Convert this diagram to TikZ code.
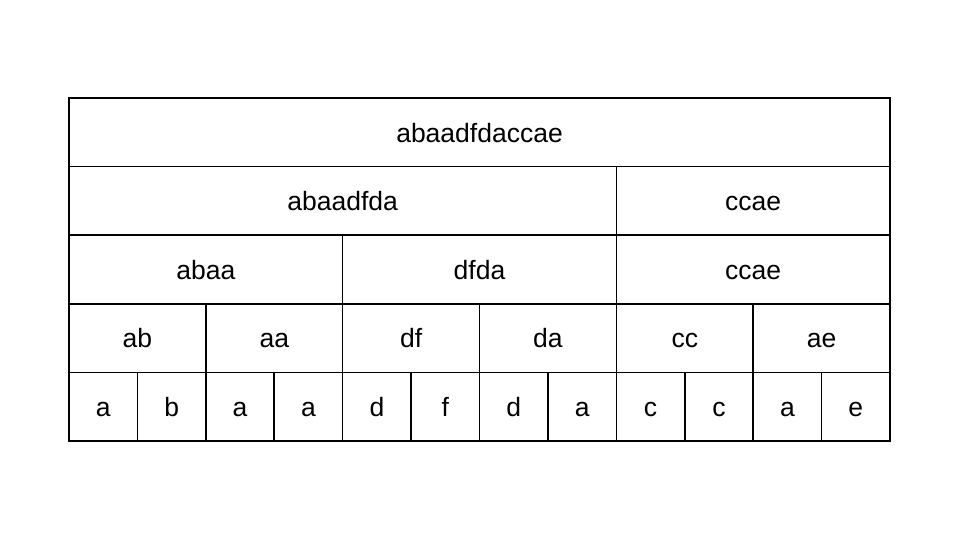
\documentclass[tikz,border=0pt]{standalone}
\usepackage{fontspec}
\setmainfont{Liberation Sans}

\begin{document}
\begin{tikzpicture}[x=1pt,y=-1pt,
   cell/.style={draw,line width=1.6pt,anchor=north west,inner sep=0pt,outer sep=0pt,
     minimum height=68.6pt,text height=19.5pt,text depth=0pt,
     font=\fontsize{26.5}{30}\selectfont},
   span/.style={cell,minimum width=#1*68.42pt}]

\useasboundingbox (0,0) rectangle (960,540);

% row 1
\node[span=12] (r1) at (69,98) {abaadfdaccae};
% row 2
\node[span=8] (r2a) at (69,166.6) {abaadfda};
\node[span=4] (r2b) at (r2a.north east) {ccae};
% row 3
\node[span=4] (r3a) at (69,235.2) {abaa};
\node[span=4] (r3b) at (r3a.north east) {dfda};
\node[span=4] (r3c) at (r3b.north east) {ccae};
% row 4
\node[span=2] (r4a) at (69,303.8) {ab};
\node[span=2] (r4b) at (r4a.north east) {aa};
\node[span=2] (r4c) at (r4b.north east) {df};
\node[span=2] (r4d) at (r4c.north east) {da};
\node[span=2] (r4e) at (r4d.north east) {cc};
\node[span=2] (r4f) at (r4e.north east) {ae};
% leaves
\foreach \ch [count=\i from 0] in {a,b,a,a,d,f,d,a,c,c,a,e}
  \node[span=1] (leaf\i) at (69+\i*68.42,372.4) {\ch};

\end{tikzpicture}
\end{document}
